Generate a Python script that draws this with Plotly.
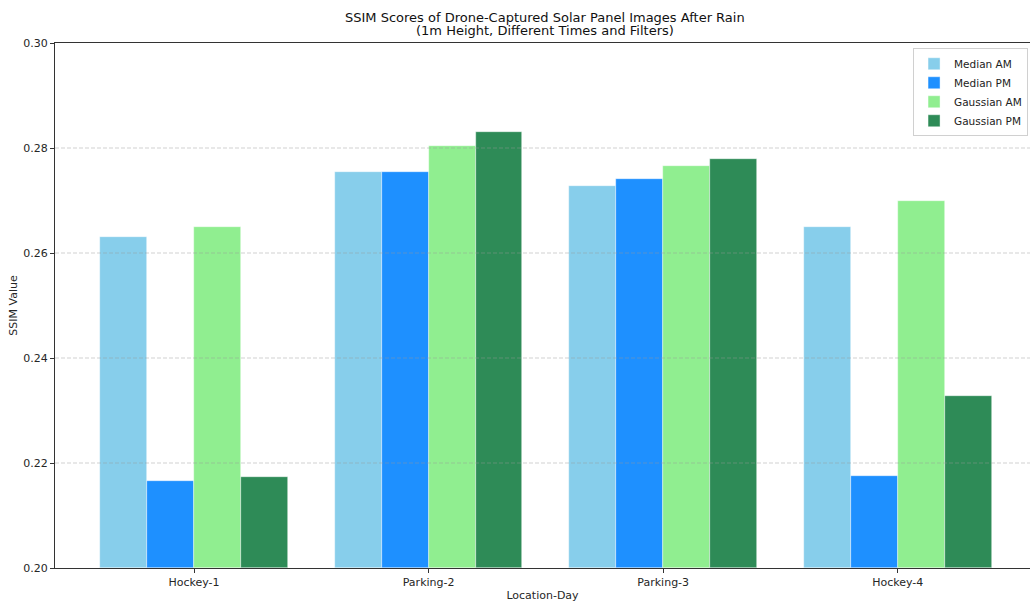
import plotly.graph_objects as go

# Locations / days on the x axis
locations = ["Hockey-1", "Parking-2", "Parking-3", "Hockey-4"]

# SSIM scores per filter and time of day
median_am = [0.2631, 0.2755, 0.2727, 0.2650]
median_pm = [0.2166, 0.2755, 0.2741, 0.2175]
gaussian_am = [0.2650, 0.2804, 0.2765, 0.2699]
gaussian_pm = [0.2173, 0.2831, 0.2780, 0.2328]

series_names = ["Median AM", "Median PM", "Gaussian AM", "Gaussian PM"]
series_values = [median_am, median_pm, gaussian_am, gaussian_pm]
series_colors = ["#87CEEB", "#1E90FF", "#90EE90", "#2E8B57"]

y_ticks = [0.20, 0.22, 0.24, 0.26, 0.28, 0.30]

title_lines = [
    "SSIM Scores of Drone-Captured Solar Panel Images After Rain",
    "(1m Height, Different Times and Filters)",
]

FONT = "DejaVu Sans, Liberation Sans, sans-serif"
bar_w = 0.2
n = len(series_names)

fig = go.Figure()
xs = list(range(len(locations)))
for i, (name, vals, col) in enumerate(zip(series_names, series_values, series_colors)):
    offset = (i - (n - 1) / 2) * bar_w
    fig.add_trace(go.Bar(
        x=[x + offset for x in xs],
        y=[v - y_ticks[0] for v in vals],
        base=y_ticks[0],
        width=bar_w,
        name=name,
        marker=dict(color=col, line=dict(color="rgba(255,255,255,0.7)", width=0.6)),
    ))

# dashed horizontal grid drawn over the bars
for t in y_ticks[1:-1]:
    fig.add_shape(type="line", xref="paper", x0=0, x1=1, yref="y", y0=t, y1=t,
                  line=dict(color="rgba(150,150,150,0.45)", width=1, dash="4px,2px"),
                  layer="above")

# two-line title above the plot, tight line spacing
for k, line in enumerate(title_lines):
    fig.add_annotation(
        text=line,
        xref="paper", x=(545 - 55) / 975, xanchor="center",
        yref="paper", y=1 + (43 - (18 + 13 * k)) / 525, yanchor="middle",
        showarrow=False,
        font=dict(family=FONT, size=13, color="#111111"),
    )

fig.update_layout(
    width=1030, height=602,
    margin=dict(l=55, r=0, t=43, b=34),
    paper_bgcolor="white", plot_bgcolor="white",
    font=dict(family=FONT, size=11, color="#262626"),
    barmode="overlay",
    bargap=0,
    showlegend=True,
    legend=dict(
        x=0.998, xanchor="right", y=0.99, yanchor="top",
        bgcolor="rgba(255,255,255,0.85)", bordercolor="#d0d0d0", borderwidth=1,
        font=dict(family=FONT, size=10.5, color="#222222"),
        tracegroupgap=0, itemwidth=30,
    ),
    xaxis=dict(
        range=[-0.5925, 3.5635],
        tickmode="array", tickvals=xs, ticktext=locations,
        showline=True, linecolor="#333333", linewidth=1, mirror=True,
        ticks="outside", ticklen=4, tickcolor="#333333",
        showgrid=False, zeroline=False,
        title=dict(text="Location-Day", font=dict(size=11), standoff=6),
        tickfont=dict(size=11),
    ),
    yaxis=dict(
        range=[y_ticks[0], y_ticks[-1]],
        tickmode="array", tickvals=y_ticks, ticktext=[f"{t:.2f}" for t in y_ticks],
        showline=True, linecolor="#333333", linewidth=1,
        ticks="outside", ticklen=4, tickcolor="#333333",
        showgrid=False, zeroline=False,
        title=dict(text="SSIM Value", font=dict(size=11), standoff=3),
        tickfont=dict(size=11),
    ),
)

fig.write_html("out.html")
